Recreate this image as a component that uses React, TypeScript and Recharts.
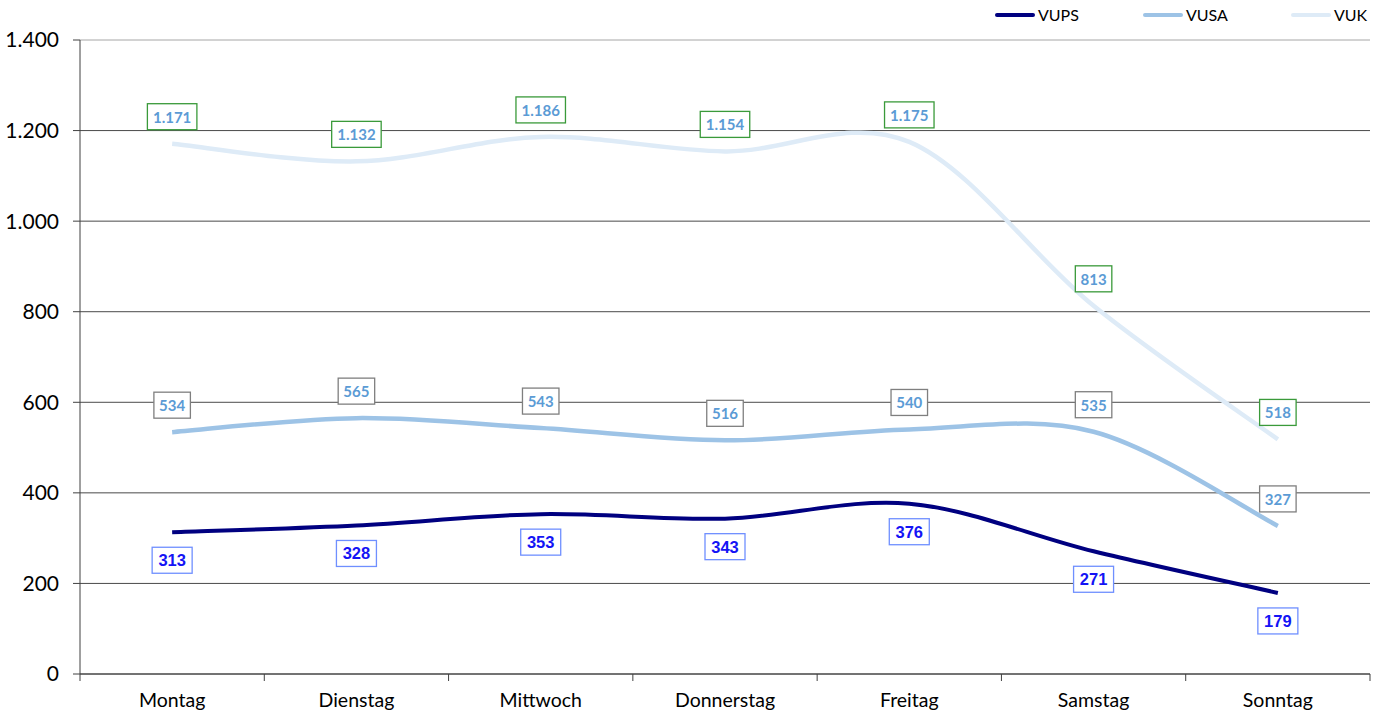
import React from "react";
import {
  LineChart,
  Line,
  XAxis,
  YAxis,
  CartesianGrid,
  Legend,
  LabelList,
} from "recharts";

const days = ["Montag", "Dienstag", "Mittwoch", "Donnerstag", "Freitag", "Samstag", "Sonntag"];
const vups = [313, 328, 353, 343, 376, 271, 179];
const vusa = [534, 565, 543, 516, 540, 535, 327];
const vuk = [1171, 1132, 1186, 1154, 1175, 813, 518];
const yTicks = [0, 200, 400, 600, 800, 1000, 1200, 1400];

const data = days.map((day, i) => ({ day, VUPS: vups[i], VUSA: vusa[i], VUK: vuk[i] }));

const W = 1384;
const H = 713;
const M = { top: 40, right: 14, bottom: 0, left: 10 };
const Y_W = 70;
const BAND = (W - M.left - Y_W - M.right) / days.length;

const COLORS = { VUPS: "#000080", VUSA: "#9DC3E6", VUK: "#DEEBF7" };

const fmt = (v: number) => String(v).replace(/\B(?=(\d{3})+(?!\d))/g, ".");

// Excel-like smoothing (Catmull-Rom through the points)
const excelCurve = (context: any) => {
  let pts: [number, number][] = [];
  return {
    areaStart() {},
    areaEnd() {},
    lineStart() {
      pts = [];
    },
    lineEnd() {
      if (!pts.length) return;
      context.moveTo(pts[0][0], pts[0][1]);
      for (let i = 0; i < pts.length - 1; i++) {
        const p0 = pts[i - 1] || pts[i];
        const p1 = pts[i];
        const p2 = pts[i + 1];
        const p3 = pts[i + 2] || p2;
        const t = 1 / 6;
        context.bezierCurveTo(
          p1[0] + (p2[0] - p0[0]) * t,
          p1[1] + (p2[1] - p0[1]) * t,
          p2[0] - (p3[0] - p1[0]) * t,
          p2[1] - (p3[1] - p1[1]) * t,
          p2[0],
          p2[1]
        );
      }
    },
    point(x: number, y: number) {
      pts.push([+x, +y]);
    },
  };
};

interface BoxCfg {
  dy: number;
  border: string;
  color: string;
  font: string;
  fs: number;
  charW: number;
  pad: number;
  h: number;
}

const boxLabel = (cfg: BoxCfg) => (props: any) => {
  const { x, y, value } = props;
  if (x == null || y == null) return null;
  const text = fmt(value);
  const w = text.length * cfg.charW + cfg.pad;
  const cy = y + cfg.dy;
  return (
    <g>
      <rect x={x - w / 2} y={cy - cfg.h / 2} width={w} height={cfg.h} fill="#fff" stroke={cfg.border} strokeWidth={1.3} />
      <text
        x={x}
        y={cy}
        textAnchor="middle"
        dominantBaseline="central"
        fill={cfg.color}
        fontWeight="bold"
        fontSize={cfg.fs}
        fontFamily={cfg.font}
      >
        {text}
      </text>
    </g>
  );
};

const vukLabel = boxLabel({ dy: -27, border: "#3A9A3A", color: "#5B9BD5", font: "Lato, sans-serif", fs: 15, charW: 6.5, pad: 17, h: 26 });
const vusaLabel = boxLabel({ dy: -27, border: "#7F7F7F", color: "#5B9BD5", font: "Lato, sans-serif", fs: 15, charW: 6.5, pad: 17, h: 26 });
const vupsLabel = boxLabel({ dy: 28, border: "#6F8FFF", color: "#1414F5", font: "'Liberation Sans', Arial, sans-serif", fs: 16.5, charW: 7, pad: 19, h: 26 });

const XTick = (props: any) => {
  const { x, y, payload, index, visibleTicksCount } = props;
  const left = x - BAND / 2;
  return (
    <g>
      <line x1={left} x2={left} y1={y} y2={y + 7} stroke="#404040" />
      {index === visibleTicksCount - 1 && (
        <line x1={x + BAND / 2} x2={x + BAND / 2} y1={y} y2={y + 7} stroke="#404040" />
      )}
      <text x={x} y={y + 19} dy="0.71em" textAnchor="middle" fill="#000" fontSize={19.5} fontFamily="Lato, sans-serif">
        {payload.value}
      </text>
    </g>
  );
};

const GridLine = (props: any) => {
  const { x1, x2, y1, y2 } = props;
  const top = y1 <= M.top + 1;
  return <line x1={x1} x2={x2} y1={y1} y2={y2} stroke={top ? "#A6A6A6" : "#4A4A4A"} strokeWidth={1} />;
};

const LegendContent = () => (
  <div style={{ display: "flex", fontFamily: "Lato, sans-serif", fontSize: 16, color: "#000" }}>
    {(["VUPS", "VUSA", "VUK"] as const).map((k, i) => (
      <div key={k} style={{ display: "flex", alignItems: "center", width: i < 2 ? 148 : 80 }}>
        <div style={{ width: 40, height: 4, background: COLORS[k], borderRadius: 2, marginRight: 3 }} />
        <span>{k}</span>
      </div>
    ))}
  </div>
);

export default function App() {
  return (
    <div style={{ position: "absolute", left: 0, top: 0, background: "#fff" }}>
      <LineChart width={W} height={H} data={data} margin={M}>
        <CartesianGrid vertical={false} horizontal={GridLine} />
        <XAxis
          dataKey="day"
          height={39}
          tickSize={0}
          tickMargin={0}
          interval={0}
          padding={{ left: BAND / 2, right: BAND / 2 }}
          tick={XTick}
          axisLine={{ stroke: "#404040" }}
        />
        <YAxis
          width={Y_W}
          domain={[0, 1400]}
          ticks={yTicks}
          tickFormatter={fmt}
          tickSize={7}
          tickMargin={14}
          tick={{ fill: "#000", fontSize: 21, fontFamily: "Lato, sans-serif" }}
          tickLine={{ stroke: "#404040" }}
          axisLine={{ stroke: "#404040" }}
        />
        <YAxis
          yAxisId="r"
          orientation="right"
          width={0}
          domain={[0, 1400]}
          tick={false}
          tickLine={false}
          axisLine={{ stroke: "#A6A6A6", strokeWidth: 2 }}
        />
        <Legend
          verticalAlign="middle"
          layout="horizontal"
          align="center"
          content={LegendContent}
          wrapperStyle={{ top: 5, left: 995, width: 380 }}
        />
        <Line
          dataKey="VUK"
          type={excelCurve as any}
          stroke={COLORS.VUK}
          strokeWidth={4.5}
          dot={false}
          isAnimationActive={false}
        >
          <LabelList dataKey="VUK" content={vukLabel} />
        </Line>
        <Line
          dataKey="VUSA"
          type={excelCurve as any}
          stroke={COLORS.VUSA}
          strokeWidth={4.5}
          dot={false}
          isAnimationActive={false}
        >
          <LabelList dataKey="VUSA" content={vusaLabel} />
        </Line>
        <Line
          dataKey="VUPS"
          type={excelCurve as any}
          stroke={COLORS.VUPS}
          strokeWidth={4}
          dot={false}
          isAnimationActive={false}
        >
          <LabelList dataKey="VUPS" content={vupsLabel} />
        </Line>
      </LineChart>
    </div>
  );
}
